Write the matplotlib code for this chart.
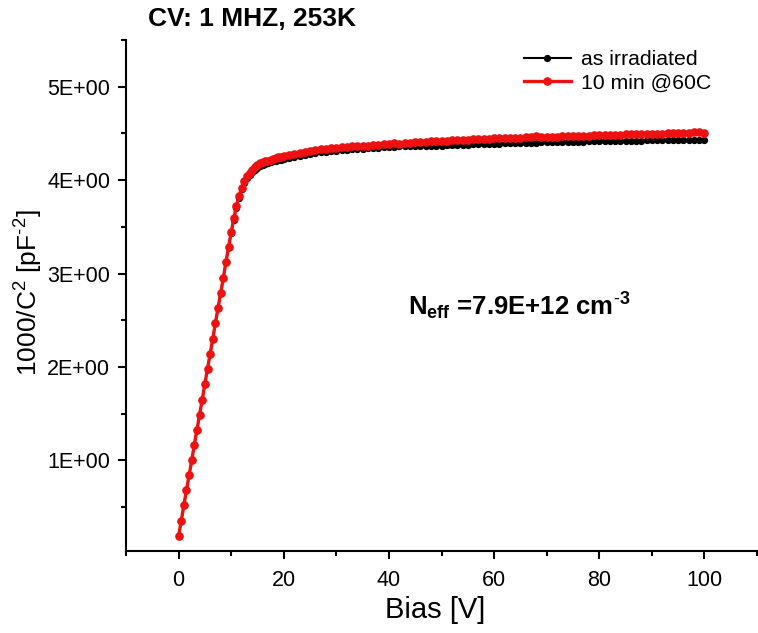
import matplotlib
matplotlib.use("Agg")
import matplotlib.pyplot as plt
from matplotlib.ticker import FixedLocator, MultipleLocator, FuncFormatter

plt.rcParams['font.family'] = ['Liberation Sans', 'DejaVu Sans']
plt.rcParams['mathtext.fontset'] = 'custom'
plt.rcParams['mathtext.rm'] = 'Liberation Sans'
plt.rcParams['mathtext.it'] = 'Liberation Sans:italic'
plt.rcParams['mathtext.bf'] = 'Liberation Sans:bold'
plt.rcParams['mathtext.default'] = 'regular'

# ---------------- data ----------------
bias = [0, 0.5, 1, 1.5, 2, 2.5, 3, 3.5, 4, 4.5, 5, 5.5, 6, 6.5, 7, 7.5, 8, 8.5, 9, 9.5,
        10, 10.5, 11, 11.5, 12, 12.5, 13, 13.5, 14, 14.5, 15, 15.5, 16, 16.5, 17, 17.5,
        18, 18.5, 19, 19.5, 20,
        21, 22, 23, 24, 25, 26, 27, 28, 29, 30,
        31, 32, 33, 34, 35, 36, 37, 38, 39, 40,
        41, 42, 43, 44, 45, 46, 47, 48, 49, 50,
        51, 52, 53, 54, 55, 56, 57, 58, 59, 60,
        61, 62, 63, 64, 65, 66, 67, 68, 69, 70,
        71, 72, 73, 74, 75, 76, 77, 78, 79, 80,
        81, 82, 83, 84, 85, 86, 87, 88, 89, 90,
        91, 92, 93, 94, 95, 96, 97, 98, 99, 100]

as_irradiated = [0.19, 0.35, 0.52, 0.68, 0.84, 1.00, 1.17, 1.33, 1.49, 1.65,
                 1.82, 1.98, 2.14, 2.30, 2.47, 2.63, 2.79, 2.95, 3.12, 3.28,
                 3.43, 3.57, 3.70, 3.81, 3.90, 3.97, 4.02, 4.06, 4.09, 4.11,
                 4.13, 4.15, 4.16, 4.17, 4.18, 4.19, 4.20, 4.21, 4.22, 4.22, 4.23,
                 4.24, 4.25, 4.26, 4.27, 4.28, 4.29, 4.30, 4.30, 4.31, 4.31,
                 4.32, 4.32, 4.33, 4.33, 4.33, 4.34, 4.34, 4.34, 4.35, 4.35,
                 4.35, 4.36, 4.36, 4.36, 4.36, 4.37, 4.37, 4.37, 4.37, 4.37,
                 4.38, 4.38, 4.38, 4.38, 4.38, 4.39, 4.39, 4.39, 4.39, 4.39,
                 4.39, 4.40, 4.40, 4.40, 4.40, 4.40, 4.40, 4.40, 4.41, 4.41,
                 4.41, 4.41, 4.41, 4.41, 4.41, 4.41, 4.41, 4.42, 4.42, 4.42,
                 4.42, 4.42, 4.42, 4.42, 4.42, 4.42, 4.42, 4.42, 4.43, 4.43,
                 4.43, 4.43, 4.43, 4.43, 4.43, 4.43, 4.43, 4.43, 4.43, 4.43]

annealed = [0.19, 0.35, 0.52, 0.68, 0.84, 1.00, 1.17, 1.33, 1.49, 1.65,
            1.82, 1.98, 2.14, 2.30, 2.47, 2.63, 2.79, 2.95, 3.12, 3.28,
            3.44, 3.59, 3.72, 3.83, 3.92, 3.99, 4.04, 4.08, 4.11, 4.14,
            4.16, 4.18, 4.19, 4.20, 4.21, 4.22, 4.23, 4.24, 4.25, 4.25, 4.26,
            4.27, 4.28, 4.29, 4.30, 4.31, 4.32, 4.33, 4.33, 4.34, 4.34,
            4.35, 4.35, 4.36, 4.36, 4.37, 4.37, 4.38, 4.38, 4.39, 4.39,
            4.40, 4.39, 4.40, 4.40, 4.41, 4.41, 4.41, 4.42, 4.42, 4.42,
            4.42, 4.43, 4.43, 4.43, 4.43, 4.44, 4.44, 4.44, 4.44, 4.45,
            4.45, 4.45, 4.45, 4.45, 4.45, 4.46, 4.46, 4.47, 4.46, 4.46,
            4.46, 4.46, 4.47, 4.47, 4.47, 4.47, 4.47, 4.47, 4.48, 4.48,
            4.48, 4.48, 4.48, 4.48, 4.49, 4.49, 4.49, 4.49, 4.49, 4.49,
            4.49, 4.49, 4.50, 4.50, 4.50, 4.50, 4.50, 4.51, 4.51, 4.50]

series_labels = ["as irradiated", "10 min @60C"]
y_major = [1, 2, 3, 4, 5]
title_text = "CV: 1 MHZ, 253K"
neff_text = r"N$_{\mathbf{eff}}$ =7.9E+12 cm$^{\mathbf{\text{-}3}}$"
ylabel_text = r"1000/C$^{2}$ [pF$^{\text{-}2}$]"

# ---------------- figure ----------------
W, H = 758, 633
fig = plt.figure(figsize=(W / 100, H / 100), dpi=100)
L, R, B, T = 126, 757, 551, 40
ax = fig.add_axes([L / W, 1 - B / H, (R - L) / W, (B - T) / H])

ax.plot(bias, as_irradiated, color='black', lw=1.5, marker='o', ms=4.2,
        label=series_labels[0], zorder=3)
ax.plot(bias, annealed, color='#ee1111', lw=2.4, marker='o', ms=5.2,
        label=series_labels[1], zorder=4)

ax.set_xlim(-10, 110)
ax.set_ylim(0.03, 5.5)

for side in ('top', 'right'):
    ax.spines[side].set_visible(False)
for side in ('left', 'bottom'):
    ax.spines[side].set_linewidth(1.5)

ax.xaxis.set_major_locator(MultipleLocator(20))
ax.xaxis.set_minor_locator(MultipleLocator(10))
ax.yaxis.set_major_locator(FixedLocator(y_major))
ax.yaxis.set_minor_locator(MultipleLocator(0.5))
ax.yaxis.set_major_formatter(FuncFormatter(lambda v, p: f"{int(round(v))}E+00"))

ax.tick_params(which='major', direction='out', length=5.5, width=1.5,
               labelsize=15.5, pad=6)
ax.tick_params(axis='x', which='major', pad=8)
ax.tick_params(which='minor', direction='out', length=3.5, width=1.5)

ax.set_xlabel("Bias [V]", fontsize=21)
ax.xaxis.set_label_coords(0.49, -0.088)
ax.set_ylabel(ylabel_text, fontsize=19)
ax.yaxis.set_label_coords(-0.128, 0.505)

fig.text(148 / W, 1 - 7 / H, title_text, fontsize=19, fontweight='bold',
         ha='left', va='top')

ax.text(43.6, 2.55, neff_text, fontsize=18.5, fontweight='bold',
        ha='left', va='baseline')

leg = ax.legend(loc='upper left', bbox_to_anchor=(524 / W, 1 - 50 / H),
                bbox_transform=fig.transFigure, frameon=False, fontsize=15.3,
                handlelength=2.2, handletextpad=0.5, labelspacing=0.2,
                borderpad=0, borderaxespad=0)

fig.savefig("out.png", dpi=100)
